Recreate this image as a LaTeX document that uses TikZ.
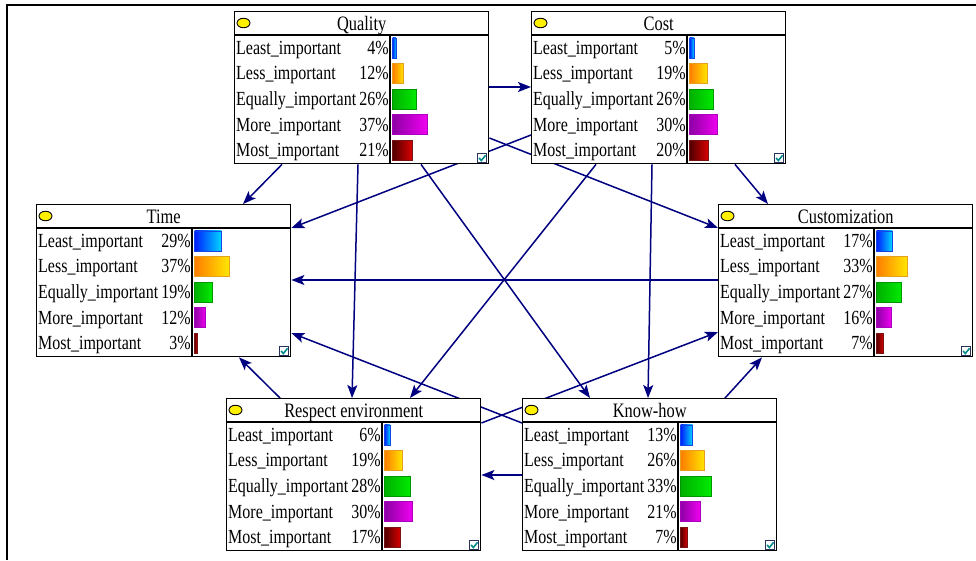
\documentclass[tikz,border=0pt]{standalone}
\usepackage{fontspec}
\setmainfont{Liberation Serif}
\newfontfamily\bnfont[FakeStretch=0.8]{Liberation Serif}
\usepackage{xcolor}
\usetikzlibrary{calc,shapes.geometric,arrows.meta,backgrounds}

\definecolor{navy}{RGB}{0,0,128}
\definecolor{bulbyellow}{RGB}{255,240,0}
\definecolor{tickframe}{RGB}{40,50,90}
\definecolor{tickgreen}{RGB}{0,140,140}
\definecolor{leastL}{RGB}{0,30,255}\definecolor{leastR}{RGB}{0,215,255}\definecolor{leastB}{RGB}{20,70,230}
\definecolor{lessL}{RGB}{255,125,0}\definecolor{lessR}{RGB}{255,230,0}\definecolor{lessB}{RGB}{230,160,30}
\definecolor{equalL}{RGB}{0,175,0}\definecolor{equalR}{RGB}{0,235,0}\definecolor{equalB}{RGB}{0,150,0}
\definecolor{moreL}{RGB}{140,0,165}\definecolor{moreR}{RGB}{240,0,240}\definecolor{moreB}{RGB}{170,0,190}
\definecolor{mostL}{RGB}{80,0,0}\definecolor{mostR}{RGB}{215,0,0}\definecolor{mostB}{RGB}{120,20,20}

\tikzstyle{netbox} = [draw=black, line width=1.4pt, rectangle, fill=white, minimum width=254pt, minimum height=152pt, inner sep=0pt, anchor=north west]
\tikzstyle{boxrule} = [draw=black, line width=1.4pt]
\tikzstyle{bulb} = [draw=black, line width=0.9pt, ellipse, fill=bulbyellow, minimum width=13pt, minimum height=9.5pt, inner sep=0pt]
\tikzstyle{titletext} = [font={\bnfont\fontsize{20.5}{22}\selectfont}, inner sep=0pt, anchor=base]
\tikzstyle{statetext} = [font={\bnfont\fontsize{20}{22}\selectfont}, inner sep=0pt]
\tikzstyle{statebar} = [line width=0.6pt]
\tikzstyle{tickbox} = [draw=tickframe, line width=0.9pt, fill=white]
\tikzstyle{tick} = [draw=tickgreen, line width=1.6pt]
\tikzstyle{link} = [draw=navy, line width=1.5pt, -{Stealth[length=13pt,width=10pt,inset=3pt]}]
\tikzstyle{frameline} = [draw=black, line width=2.2pt]

% one node of the network: name, x, y, title, five percentages
\newcommand{\bnbox}[9]{%
  \node[netbox] (#1) at (#2,#3) {};
  \draw[boxrule] ($(#1.north west)+(0,24)$) -- ($(#1.north east)+(0,24)$);
  \draw[boxrule] ($(#1.north west)+(156,24)$) -- ($(#1.south west)+(156,0)$);
  \node[bulb] (#1-bulb) at ($(#1.north west)+(9.5,12)$) {};
  \node[titletext] (#1-title) at ($(#1.north)+(0,19)$) {#4};
  \foreach \lab/\pc/\cl/\cr/\cb [count=\i] in {Least\_important/#5/leastL/leastR/leastB,
      Less\_important/#6/lessL/lessR/lessB, Equally\_important/#7/equalL/equalR/equalB,
      More\_important/#8/moreL/moreR/moreB, Most\_important/#9/mostL/mostR/mostB}{
    \pgfmathsetmacro\rowy{24+25.6*(\i-0.5)}
    \node[statetext, anchor=base west] at ($(#1.north west)+(2,\rowy+6.5)$) {\lab};
    \node[statetext, anchor=base east] at ($(#1.north west)+(155,\rowy+6.5)$) {\pc\%};
    \draw[statebar, draw=\cb, left color=\cl, right color=\cr]
      ($(#1.north west)+(158.5,\rowy-10)$) rectangle ++({0.93*\pc},20);
  }
  \draw[tickbox] ($(#1.south east)+(-12,-11)$) rectangle ++(9,9);
  \draw[tick] ($(#1.south east)+(-10.3,-6.5)$) -- ++(2.2,2.6) -- ++(4.3,-5.2);
}

\begin{document}
\begin{tikzpicture}[x=1pt, y=-1pt]
\useasboundingbox (0,0) rectangle (976,560);
\draw[frameline] (7,560) -- (7,5) -- (976,5);

\bnbox{quality}{234}{11}{Quality}{4}{12}{26}{37}{21}
\bnbox{cost}{531}{11}{Cost}{5}{19}{26}{30}{20}
\bnbox{time}{36}{204}{Time}{29}{37}{19}{12}{3}
\bnbox{custom}{718}{204}{Customization}{17}{33}{27}{16}{7}
\bnbox{respect}{226}{398}{Respect environment}{6}{19}{28}{30}{17}
\bnbox{knowhow}{522}{398}{Know-how}{13}{26}{33}{21}{7}

\begin{scope}[on background layer]
\draw[link] ($(quality.north east)+(0,76)$) -- ($(cost.north west)+(0,76)$);
\draw[link] ($(quality.south west)+(48,0)$) -- ($(time.north west)+(207,0)$);
\draw[link] ($(quality.north east)+(0,127)$) -- ($(custom.north west)+(0,24)$);
\draw[link] ($(quality.south west)+(124,0)$) -- ($(respect.north west)+(126,0)$);
\draw[link] ($(quality.south west)+(187,0)$) -- ($(knowhow.north west)+(68,0)$);
\draw[link] ($(cost.north west)+(0,124)$) -- ($(time.north east)+(0,24)$);
\draw[link] ($(cost.south west)+(204,0)$) -- ($(custom.north west)+(50,0)$);
\draw[link] ($(cost.south west)+(65,0)$) -- ($(respect.north west)+(184,0)$);
\draw[link] ($(cost.south west)+(121,0)$) -- ($(knowhow.north west)+(126,0)$);
\draw[link] ($(custom.north west)+(0,76)$) -- ($(time.north east)+(0,76)$);
\draw[link] ($(respect.north west)+(54,0)$) -- ($(time.south west)+(203,0)$);
\draw[link] ($(respect.north east)+(0,25)$) -- ($(custom.north west)+(0,128)$);
\draw[link] ($(knowhow.north west)+(0,25)$) -- ($(time.north east)+(0,129)$);
\draw[link] ($(knowhow.north west)+(0,77)$) -- ($(respect.north east)+(0,77)$);
\draw[link] ($(knowhow.north west)+(203,0)$) -- ($(custom.south west)+(44,0)$);
\end{scope}
\end{tikzpicture}
\end{document}
